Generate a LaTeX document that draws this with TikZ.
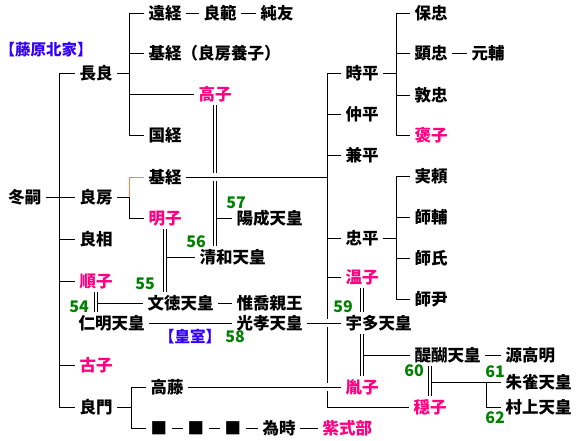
\documentclass[tikz,border=0pt]{standalone}
\usepackage{fontspec}
\setmainfont{Noto Sans CJK JP}
\usepackage{tikz}
\usetikzlibrary{calc}
\definecolor{KinPink}{HTML}{FF0080}
\definecolor{KinGreen}{HTML}{008000}
\definecolor{KinBlue}{HTML}{3300FF}
\definecolor{KinOrange}{HTML}{FF8040}

\begin{document}
\begin{tikzpicture}[x=1pt, y=-1pt, line width=1pt,
    person/.style={anchor=west, inner xsep=4pt, inner ysep=3pt, text height=13.5pt, text depth=1.5pt, font=\fontsize{16.5}{18}\selectfont\bfseries},
    lady/.style={person, text=KinPink},
    reign/.style={text=KinGreen, inner sep=0pt, font=\fontsize{16}{18}\selectfont\bfseries},
    house/.style={text=KinBlue, inner sep=0pt, font=\fontsize{15.5}{18}\selectfont\bfseries},
    wed/.style={double, double distance=2pt},
    bridge/.style={preaction={draw=white, line width=8pt}}]
        \useasboundingbox (0,0) rectangle (580,440);
        % Fujiwara Hokke - names
        \node[house] (hokke) at (46,50) {【藤原北家】};
        \node[person] (fuyutsugu) at (4,197) {冬嗣};

        \node[person] (nagayoshi) at (75,73) {長良};
        \node[person] (yoshifusa) at (75,197) {良房};
        \node[person] (yoshimi) at (75,239) {良相};
        \node[lady] (junshi) at (75,281) {順子};
        \node[person] (ninmyo) at (74,323) {仁明天皇};
        \node[lady] (koshi) at (75,365) {古子};
        \node[person] (yoshikado) at (75,407) {良門};

        \node[person] (toonori) at (144,13) {遠経};
        \node[person] (yoshinori) at (199,13) {良範};
        \node[person] (sumitomo) at (256,13) {純友};
        \node[person] (mototsuneA) at (144,53) {基経（良房養子）};
        \node[lady] (takaiko) at (194,94) {高子};
        \node[person] (kunitsune) at (144,135) {国経};
        \node[person] (mototsune) at (144,177) {基経};
        \node[lady] (akirakeiko) at (144,218) {明子};
        \node[person] (yozei) at (232,218) {陽成天皇};
        \node[person] (seiwa) at (195,257) {清和天皇};
        \node[person] (montoku) at (143,303) {文徳天皇};
        \node[person] (koretaka) at (232,303) {惟喬親王};
        \node[person] (koko) at (232,323) {光孝天皇};
        \node[house] (koshitsu) at (190,337) {【皇室】};
        \node[person] (takafuji) at (146,387) {高藤};
        \node[person] (sqA) at (146,428) {■};
        \node[person] (sqB) at (183,428) {■};
        \node[person] (sqC) at (220,428) {■};
        \node[person] (tametoki) at (258,428) {為時};
        \node[lady] (murasaki) at (318,428) {紫式部};

        \node[person] (tokihira) at (341,73) {時平};
        \node[person] (nakahira) at (341,114) {仲平};
        \node[person] (kanehira) at (341,155) {兼平};
        \node[person] (tadahira) at (341,238) {忠平};
        \node[lady] (onshi) at (341,277) {温子};
        \node[person] (uda) at (341,323) {宇多天皇};
        \node[lady] (inshi) at (341,387) {胤子};
        \node[lady] (onshiB) at (409,407) {穏子};

        \node[person] (yasutada) at (410,13) {保忠};
        \node[person] (akitada) at (410,53) {顕忠};
        \node[person] (motosuke) at (467,53) {元輔};
        \node[person] (atsutada) at (410,95) {敦忠};
        \node[lady] (hoshi) at (410,135) {褒子};
        \node[person] (saneyori) at (410,176) {実頼};
        \node[person] (morosuke) at (410,217) {師輔};
        \node[person] (moroushi) at (410,258) {師氏};
        \node[person] (morotada) at (410,299) {師尹};
        \node[person] (daigo) at (410,355) {醍醐天皇};
        \node[person] (takaakira) at (501,355) {源高明};
        \node[person] (suzaku) at (501,382) {朱雀天皇};
        \node[person] (murakami) at (501,407) {村上天皇};

        % reign numbers
        \node[reign] (nA) at (79,307) {54};
        \node[reign] (nB) at (145,284) {55};
        \node[reign] (nC) at (196,242) {56};
        \node[reign] (nD) at (236,203) {57};
        \node[reign] (nE) at (235,337) {58};
        \node[reign] (nF) at (343,307) {59};
        \node[reign] (nG) at (414,371) {60};
        \node[reign] (nH) at (495,372) {61};
        \node[reign] (nI) at (495,418) {62};

        % marriages
        \draw[wed] (takaiko) -- (takaiko |- seiwa.north);
        \draw[wed] (akirakeiko) -- (akirakeiko |- montoku.north);
        \draw[wed] (junshi) -- (junshi |- ninmyo.north);
        \draw[wed] (onshi) -- (onshi |- uda.north);
        \draw[wed] (inshi |- uda.south) -- (inshi);
        \draw[wed] (onshiB |- daigo.south) -- (onshiB);
        \draw ([xshift=1.5pt]takaiko.south |- yozei.west) -- (yozei.west);
        \draw ([xshift=1.5pt]akirakeiko.south |- seiwa.west) -- (seiwa.west);
        \draw ([xshift=1.5pt]junshi.south |- montoku.west) -- (montoku.west);
        \draw ([xshift=1.5pt]inshi.north |- daigo.west) -- (daigo.west);
        \coordinate (busD) at (486,382);
        \draw ([xshift=1.5pt]onshiB.north |- suzaku.west) -- (suzaku.west);
        \draw (busD) |- (murakami.west);

        % lines of descent
        \coordinate (busF) at (59,197);
        \draw (fuyutsugu) -- (busF);
        \foreach \c in {nagayoshi,yoshifusa,yoshimi,junshi,koshi,yoshikado}
            \draw (busF) |- (\c.west);
        \coordinate (busN) at (129,73);
        \draw (nagayoshi) -- (busN);
        \foreach \c in {toonori,mototsuneA,takaiko,kunitsune}
            \draw (busN) |- (\c.west);
        \coordinate (busY) at (129,197);
        \draw (yoshifusa) -- (busY);
        \draw[KinOrange] (busY) |- (mototsune.west);
        \draw (busY) |- (akirakeiko.west);
        \coordinate (busK) at (131,407);
        \draw (yoshikado) -- (busK);
        \draw (busK) |- (takafuji.west);
        \draw (busK) |- (sqA.west);

        \coordinate (busM) at (327,177);
        \draw[bridge] (mototsune) -- (busM);
        \foreach \c in {tokihira,nakahira,kanehira,tadahira,onshi,onshiB}
            \draw (busM) |- (\c.west);
        \coordinate (busT) at (396,73);
        \draw (tokihira) -- (busT);
        \foreach \c in {yasutada,akitada,atsutada,hoshi}
            \draw (busT) |- (\c.west);
        \coordinate (busH) at (396,238);
        \draw (tadahira) -- (busH);
        \foreach \c in {saneyori,morosuke,moroushi,morotada}
            \draw (busH) |- (\c.west);

        \draw (toonori) -- (yoshinori);
        \draw (yoshinori) -- (sumitomo);
        \draw (akitada) -- (motosuke);
        \draw (montoku) -- (koretaka);
        \draw (ninmyo) -- (koko);
        \draw (daigo) -- (takaakira);
        \draw (sqA) -- (sqB);
        \draw (sqB) -- (sqC);
        \draw (sqC) -- (tametoki);
        \draw (tametoki) -- (murasaki);

        % crossings
        \draw[bridge] (koko) -- (uda);
        \draw[bridge] (takafuji) -- (inshi);
    \end{tikzpicture}
\end{document}
